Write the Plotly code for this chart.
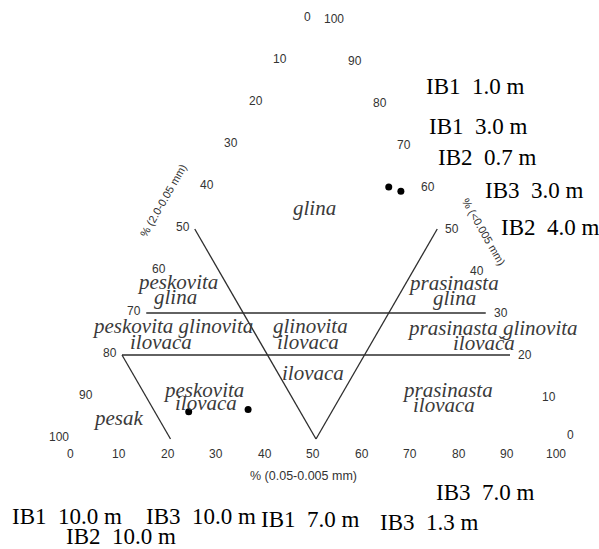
import math
import plotly.graph_objects as go

# ---------------- data ----------------
# sample points (percent): sand 2.0-0.05 mm, silt 0.05-0.005 mm, clay <0.005 mm
pt_sand = [5.0, 3.0, 73.0, 60.5]
pt_silt = [35.0, 38.0, 20.5, 32.5]
pt_clay = [60.0, 59.0, 6.5, 7.0]

tick_vals = [0, 10, 20, 30, 40, 50, 60, 70, 80, 90, 100]

# class boundaries as segments (silt, clay) -> (silt, clay)
seg_silt0 = [0, 0, 0, 50, 0]
seg_clay0 = [30, 20, 50, 50, 20]
seg_silt1 = [70, 80, 50, 50, 20]
seg_clay1 = [30, 20, 0, 0, 0]

region_names = ["glina", "peskovita", "glina", "peskovita glinovita", "ilovaca",
                "glinovita", "ilovaca", "ilovaca", "peskovita", "ilovaca", "pesak",
                "prasinasta", "glina", "prasinasta glinovita", "ilovača",
                "prasinasta", "ilovaca"]
region_silt = [22.1, 2.7, 4.2, 6.9, 6.5, 35.5, 36.8, 41.5, 20.9, 23.0, 6.7,
               59.9, 61.7, 73.1, 73.2, 71.2, 72.3]
region_clay = [55.0, 37.4, 33.8, 26.9, 23.1, 26.9, 23.1, 15.7, 11.7, 8.6, 5.0,
               37.1, 33.6, 26.4, 22.9, 11.7, 8.1]

title_bottom = "% (0.05-0.005 mm)"
title_left = "% (2.0-0.05 mm)"
title_right = "% (<0.005 mm)"

sample_labels = ["IB1  1.0 m", "IB1  3.0 m", "IB2  0.7 m", "IB3  3.0 m", "IB2  4.0 m",
                 "IB3  7.0 m", "IB1  10.0 m", "IB3  10.0 m", "IB1  7.0 m",
                 "IB3  1.3 m", "IB2  10.0 m"]
# label centres in pixels (layout only)
label_px = [(475, 87), (478, 127), (487, 158), (534, 190), (550, 227),
            (485, 492), (67, 516), (201, 516), (310, 519), (429, 522), (121, 536)]

# ---------------- geometry ----------------
W, H = 599, 549
S = 4.85            # pixels per percent
X0, Y0 = 73.5, 439  # pixel position of the bottom-left vertex
H3 = math.sqrt(3) / 2


def tern(silt, clay):
    return silt + clay / 2.0, clay * H3


xr = [-X0 / S, (W - X0) / S]
yr = [(Y0 - H) / S, Y0 / S]

fig = go.Figure()

# boundary lines
lx, ly = [], []
for s0, c0, s1, c1 in zip(seg_silt0, seg_clay0, seg_silt1, seg_clay1):
    a = tern(s0, c0)
    b = tern(s1, c1)
    lx += [a[0], b[0], None]
    ly += [a[1], b[1], None]
fig.add_trace(go.Scatter(x=lx, y=ly, mode="lines",
                         line=dict(color="#2e2e2e", width=1.3),
                         hoverinfo="skip", showlegend=False))

# sample points
px_, py_ = zip(*[tern(s, c) for s, c in zip(pt_silt, pt_clay)])
fig.add_trace(go.Scatter(x=list(px_), y=list(py_), mode="markers",
                         marker=dict(color="black", size=7),
                         customdata=pt_sand, showlegend=False))

ann = []
tick_font = dict(family="Liberation Sans, Arial", size=12, color="#333333")
# left edge: sand, 0 at apex .. 100 at bottom-left
for v in tick_vals:
    x, y = tern(0, 100 - v)
    ann.append(dict(x=x, y=y, text=str(v), showarrow=False, xanchor="right",
                    yanchor="middle", xshift=-3, yshift=2, font=tick_font))
# right edge: clay, 100 at apex .. 0 at bottom-right
for v in tick_vals:
    x, y = tern(100 - v, v)
    ann.append(dict(x=x, y=y, text=str(v), showarrow=False, xanchor="left",
                    yanchor="middle", xshift=6, yshift=(4 if v == 0 else 0), font=tick_font))
# bottom: silt
for v in tick_vals:
    x, y = tern(v, 0)
    ann.append(dict(x=x, y=y, text=str(v), showarrow=False, xanchor="center",
                    yanchor="middle", xshift=-3, yshift=-15, font=tick_font))

# axis titles
tfont = dict(family="Liberation Sans, Arial", size=11, color="#333333")
x, y = tern(47.5, 0)
ann.append(dict(x=x, y=y, text=title_bottom, showarrow=False, yshift=-37,
                font=dict(tfont, size=12.5)))
x, y = tern(0, 56.9)
ann.append(dict(x=x, y=y, text=title_left, showarrow=False, textangle=-60,
                xshift=-48, yshift=0, font=tfont))
x, y = tern(50.7, 49.3)
ann.append(dict(x=x, y=y, text=title_right, showarrow=False, textangle=60,
                xshift=45, yshift=0, font=tfont))

# class names
rfont = dict(family="Liberation Serif, Times New Roman", size=21, color="#3a3a3a")
for name, s, c in zip(region_names, region_silt, region_clay):
    x, y = tern(s, c)
    ann.append(dict(x=x, y=y, text="<i>" + name + "</i>", showarrow=False, font=rfont))

# sample labels
sfont = dict(family="Liberation Serif, Times New Roman", size=23, color="#000000")
for txt, (qx, qy) in zip(sample_labels, label_px):
    ann.append(dict(x=qx / W, y=1 - qy / H, xref="paper", yref="paper",
                    xanchor="center", yanchor="middle",
                    text=txt.replace(" ", "\u00a0"),
                    showarrow=False, font=sfont))

fig.update_layout(
    width=W, height=H, margin=dict(l=0, r=0, t=0, b=0),
    paper_bgcolor="white", plot_bgcolor="white",
    xaxis=dict(range=xr, visible=False, fixedrange=True),
    yaxis=dict(range=yr, visible=False, fixedrange=True),
    annotations=ann, showlegend=False,
)

fig.write_html("out.html", config={"displayModeBar": False},
               post_script="document.body.style.margin='0';")
